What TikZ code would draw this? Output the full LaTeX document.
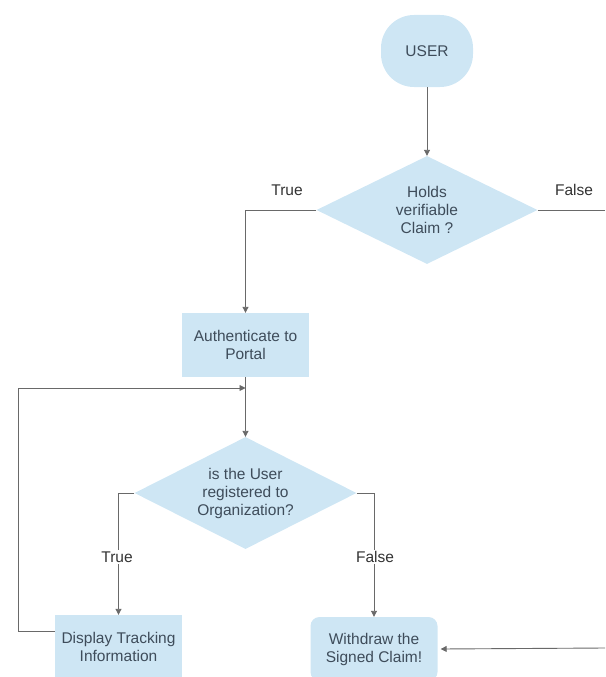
\documentclass[tikz,border=0pt]{standalone}
\usepackage{fontspec}
\setmainfont{Liberation Sans}
\usetikzlibrary{shapes.geometric,arrows.meta}
\definecolor{boxfill}{RGB}{206,230,244}
\definecolor{boxtext}{RGB}{62,76,90}
\definecolor{linecol}{RGB}{105,105,105}
\begin{document}
\begin{tikzpicture}[x=1pt,y=-1pt,
  every node/.style={font=\fontsize{15.5}{18}\selectfont, text=boxtext},
  procbox/.style={rectangle, fill=boxfill, minimum width=127pt, minimum height=64pt, inner sep=0pt, align=center},
  roundbox/.style={procbox, rounded corners=9pt},
  decision/.style={diamond, fill=boxfill, aspect=2, inner sep=0pt, align=center},
  startnode/.style={rectangle, rounded corners=33pt, fill=boxfill, minimum width=92pt, minimum height=72pt, inner sep=0pt},
  conn/.style={draw=linecol, line width=0.9pt},
  arr/.style={conn, -{Triangle[width=6pt,length=6pt]}},
  lbl/.style={fill=white, inner sep=1.5pt, text=black!80}
]
\useasboundingbox (0,0) rectangle (605,677);

\node[startnode] (user) at (427,51) {USER};
\node[decision, minimum width=221pt, minimum height=108pt] (d1) at (427,210) {Holds\\verifiable\\Claim ?};
\node[procbox] (auth) at (245.5,345) {Authenticate to\\Portal};
\node[decision, minimum width=222pt, minimum height=112pt] (d2) at (245.5,493) {is the User\\registered to\\Organization?};
\node[procbox] (disp) at (118.5,647) {Display Tracking\\Information};
\node[roundbox] (wd) at (374,649) {Withdraw the\\Signed Claim!};

\coordinate (rightout) at (605,210);
\coordinate (rightin) at (605,648);
\coordinate (loopin) at (245.5,388);
\coordinate (loopa) at (18,631);
\coordinate (loopb) at (18,388);

\draw[arr] (user) -- (d1.north);
\draw[arr] (d1.west) -| (auth.north);
\node[lbl] (t1) at (287,190) {True};
\draw[conn] (d1.east) -- (rightout);
\node[lbl] (f1) at (574,190) {False};
\draw[arr] (auth.south) -- (d2.north);
\draw[arr] (d2.west) -| (disp.north);
\node[lbl] (t2) at (117,557) {True};
\draw[arr] (d2.east) -| (wd.north);
\node[lbl] (f2) at (375,557) {False};
\draw[arr] (rightin) -- ([xshift=3pt]wd.east);
\draw[arr] ([yshift=16pt]disp.west) -- (loopa) -- (loopb) -- (loopin);
\end{tikzpicture}
\end{document}
